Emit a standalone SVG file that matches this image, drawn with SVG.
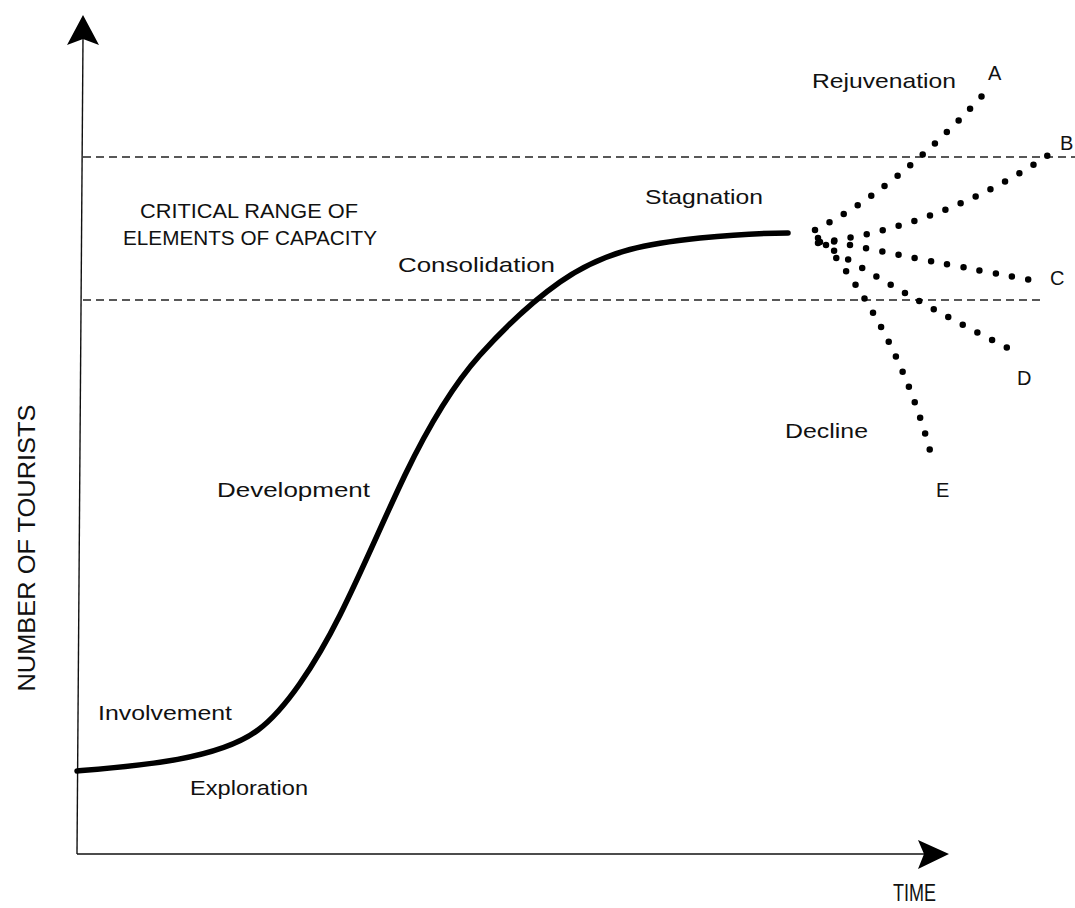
<svg xmlns="http://www.w3.org/2000/svg" width="1075" height="908" viewBox="0 0 1075 908">
<style>
.lbl{font-family:"Liberation Sans",Arial,sans-serif;font-size:21px;fill:#111;}
.cap{font-family:"Liberation Sans",Arial,sans-serif;font-size:20px;fill:#111;}
.ax{font-family:"Liberation Sans",Arial,sans-serif;font-size:24px;fill:#111;}
.axis{stroke:#111;stroke-width:1.4;fill:none;}
.range{stroke:#222;stroke-width:1.5;stroke-dasharray:8 5;fill:none;}
.curve{stroke:#000;stroke-width:5.5;fill:none;stroke-linecap:round;stroke-linejoin:round;}
.dots{stroke:#000;stroke-width:6.5;fill:none;stroke-linecap:round;stroke-dasharray:0 16.5;}
</style>
<rect width="1075" height="908" fill="#fff"/>
<g id="axes">
<line class="axis" x1="83" y1="38" x2="77" y2="854"/>
<line class="axis" x1="77" y1="854" x2="926" y2="854"/>
<polygon points="83,15 67,45 83,39 99,45" fill="#000"/>
<polygon points="949,854 918,840 924,854 918,869" fill="#000"/>
</g>
<g id="critical-range">
<line class="range" x1="83" y1="157" x2="1075" y2="157"/>
<line class="range" x1="83" y1="300" x2="1042" y2="300"/>
</g>
<g id="connectors">
<path id="main-curve" class="curve" d="M77,771 C137,766 218,760 258,730 C285,710 315,665 340,615 C362,571 383,521 405,475 C430,423 455,383 480,355 C507,325 533,301 560,282 C607,249 653,243 700,238 C730,235 760,233 788,233"/>
<path id="branch-A" class="dots" d="M815,230 Q895,190 982,96"/>
<path id="branch-B" class="dots" d="M818,243 Q950,225 1060,147"/>
<path id="branch-C" class="dots" d="M818,238 Q880,252 1036,281"/>
<path id="branch-D" class="dots" d="M820,242 Q920,305 1018,353"/>
<path id="branch-E" class="dots" d="M826,245 Q900,335 932,458"/>
</g>
<g id="labels">
<text id="t-rejuvenation" class="lbl" x="812" y="88" textLength="144" lengthAdjust="spacingAndGlyphs">Rejuvenation</text>
<text id="t-A" class="cap" x="988" y="80">A</text>
<text id="t-B" class="cap" x="1060" y="150">B</text>
<text id="t-C" class="cap" x="1050" y="285">C</text>
<text id="t-D" class="cap" x="1017" y="385">D</text>
<text id="t-E" class="cap" x="936" y="497">E</text>
<text id="t-decline" class="lbl" x="785" y="438" textLength="83" lengthAdjust="spacingAndGlyphs">Decline</text>
<text id="t-stagnation" class="lbl" x="645" y="204" textLength="118" lengthAdjust="spacingAndGlyphs">Stagnation</text>
<text id="t-critical1" class="lbl" x="140" y="218" textLength="218" lengthAdjust="spacingAndGlyphs">CRITICAL RANGE OF</text>
<text id="t-critical2" class="lbl" x="123" y="245" textLength="254" lengthAdjust="spacingAndGlyphs">ELEMENTS OF CAPACITY</text>
<text id="t-consolidation" class="lbl" x="398" y="272" textLength="157" lengthAdjust="spacingAndGlyphs">Consolidation</text>
<text id="t-development" class="lbl" x="217" y="497" textLength="153" lengthAdjust="spacingAndGlyphs">Development</text>
<text id="t-involvement" class="lbl" x="98" y="720" textLength="134" lengthAdjust="spacingAndGlyphs">Involvement</text>
<text id="t-exploration" class="lbl" x="190" y="795" textLength="118" lengthAdjust="spacingAndGlyphs">Exploration</text>
<text id="t-time" class="ax" x="893" y="901" font-size="20" textLength="43" lengthAdjust="spacingAndGlyphs">TIME</text>
<text id="t-number" class="ax" transform="translate(35,548) rotate(-90)" text-anchor="middle" textLength="287" lengthAdjust="spacingAndGlyphs">NUMBER OF TOURISTS</text>
</g>
</svg>
